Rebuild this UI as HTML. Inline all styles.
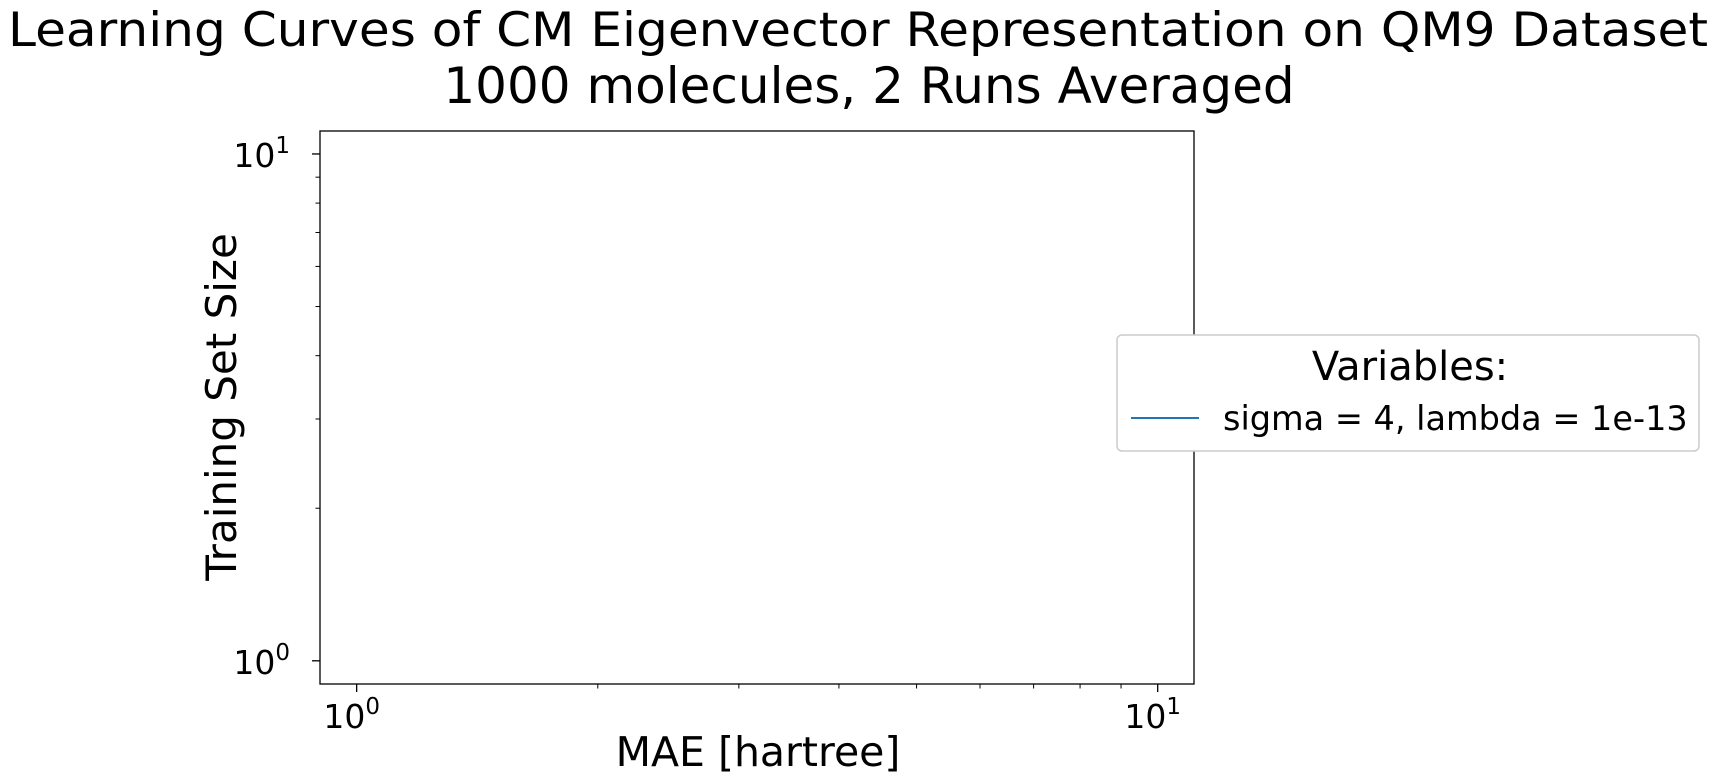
<!DOCTYPE html>
<html><head><meta charset="utf-8"><style>
body{margin:0;background:#fff;}
svg{display:block;font-family:"DejaVu Sans","Liberation Sans",sans-serif;}
</style></head><body>
<svg id="chart" width="1715" height="782" viewBox="0 0 1715 782">
<text x="858" y="46" font-size="47" text-anchor="middle" textLength="1700" lengthAdjust="spacingAndGlyphs">Learning Curves of CM Eigenvector Representation on QM9 Dataset</text>
<text x="869" y="103" font-size="50" text-anchor="middle">1000 molecules, 2 Runs Averaged</text>
<g id="axes"></g>
<text x="758" y="766" font-size="41" text-anchor="middle">MAE [hartree]</text>
<text transform="translate(236,407) rotate(-90)" font-size="42" text-anchor="middle">Training Set Size</text>
<g>
<rect x="1117" y="335" width="582" height="116" rx="5" fill="#fff" stroke="#ccc" stroke-width="1.5"/>
<text x="1410" y="380" font-size="40" text-anchor="middle">Variables:</text>
<line x1="1131" y1="418" x2="1199" y2="418" stroke="#1f77b4" stroke-width="2"/>
<text x="1223" y="430" font-size="33.5">sigma = 4, lambda = 1e-13</text>
</g>
</svg>
<script>
const seriesX = [];
const seriesY = [];
const xTickLabels = ["0","1"];
const yTickLabels = ["0","1"];
const L=320,R=1194,T=131,B=684;
const xmin=Math.log10(0.9),xmax=Math.log10(11.1),ymin=Math.log10(0.9),ymax=Math.log10(11.1);
const sx=v=>L+(Math.log10(v)-xmin)/(xmax-xmin)*(R-L);
const sy=v=>B-(Math.log10(v)-ymin)/(ymax-ymin)*(B-T);
const NS="http://www.w3.org/2000/svg";
const g=document.getElementById('axes');
function mk(t,a){const e=document.createElementNS(NS,t);for(const k in a)e.setAttribute(k,a[k]);g.appendChild(e);return e;}
const fr=mk('rect',{x:L,y:T,width:R-L,height:B-T,fill:'none',stroke:'#000','stroke-width':1.3});


for(let d=0;d<=1;d++){for(let m=1;m<=9;m++){const v=m*Math.pow(10,d);
 if(v<0.9||v>11.1)continue;const major=m===1;const len=major?8:4.5;
 const xt=mk('line',{x1:sx(v),x2:sx(v),y1:B,y2:B+len,stroke:'#000','stroke-width':major?1.3:1});
 
 
 const yt=mk('line',{x1:L,x2:L-len,y1:sy(v),y2:sy(v),stroke:'#000','stroke-width':major?1.3:1});
 
 }}
xTickLabels.forEach(p=>{const v=Math.pow(10,+p);
 const t=mk('text',{x:sx(v)-5,y:B+44,'font-size':33,'text-anchor':'middle'});
 t.innerHTML='10<tspan dy="-14" font-size="23">'+p+'</tspan>';
 
 });
yTickLabels.forEach(p=>{const v=Math.pow(10,+p);
 const t=mk('text',{x:L-30,y:sy(v)+13,'font-size':33,'text-anchor':'end'});
 t.innerHTML='10<tspan dy="-14" font-size="23">'+p+'</tspan>';
 
 });
if(seriesX.length){const pts=seriesX.map((x,i)=>sx(x)+','+sy(seriesY[i])).join(' ');
 const pl=mk('polyline',{points:pts,fill:'none',stroke:'#1f77b4','stroke-width':2});
 
 }
</script>
</body></html>
